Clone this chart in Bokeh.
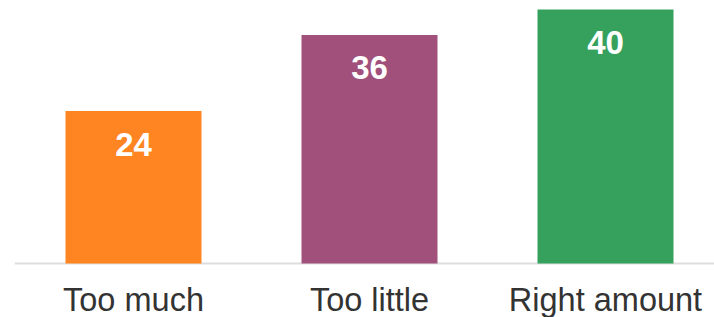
from bokeh.plotting import figure
from bokeh.models import ColumnDataSource, Range1d, Span
from bokeh.core.properties import value
from bokeh.embed import file_html
from bokeh.resources import INLINE

categories = ["Too much", "Too little", "Right amount"]
values = [24, 36, 40]
colors = ["#FE8521", "#A1507B", "#35A15D"]

xs = list(range(len(categories)))
labels = [str(v) for v in values]

src = ColumnDataSource(dict(x=xs, top=values, color=colors, label=labels,
                            cat=categories, zero=[0] * len(xs)))

# pixel geometry
W, H = 714, 317
left_border = 14
frame_w = W - left_border
spacing = 236.0
first_center = 133.0 - left_border
x_start = -first_center / spacing
x_end = x_start + frame_w / spacing

base_px = 263
top_px = 9
scale = (base_px - top_px) / 40.0
y_end = 40 + top_px / scale
y_start = -(H - base_px) / scale

p = figure(width=W, height=H, output_backend="svg", toolbar_location=None,
           x_range=Range1d(x_start, x_end), y_range=Range1d(y_start, y_end),
           min_border_left=left_border, min_border_right=0, min_border_top=0,
           min_border_bottom=0)
p.outline_line_color = None
p.background_fill_color = "white"
p.border_fill_color = "white"
p.xgrid.visible = False
p.ygrid.visible = False
p.xaxis.visible = False
p.yaxis.visible = False

p.add_layout(Span(location=0, dimension="width", line_color="#dddddd", line_width=2,
                  level="underlay"))

p.vbar(x="x", top="top", bottom=0, width=136 / spacing, color="color", line_color=None, source=src)

p.text(x="x", y="top", text="label", source=src, text_color="white",
       text_font=value("Liberation Sans"), text_font_style="bold", text_font_size="33px",
       text_align="center", text_baseline="middle", y_offset=33)

p.text(x="x", y="zero", text="cat", source=src, text_color="#333333",
       text_font=value("Liberation Sans"), text_font_size="32.5px",
       text_align="center", text_baseline="middle", y_offset=36)

open("out.html", "w").write(file_html(p, INLINE))
